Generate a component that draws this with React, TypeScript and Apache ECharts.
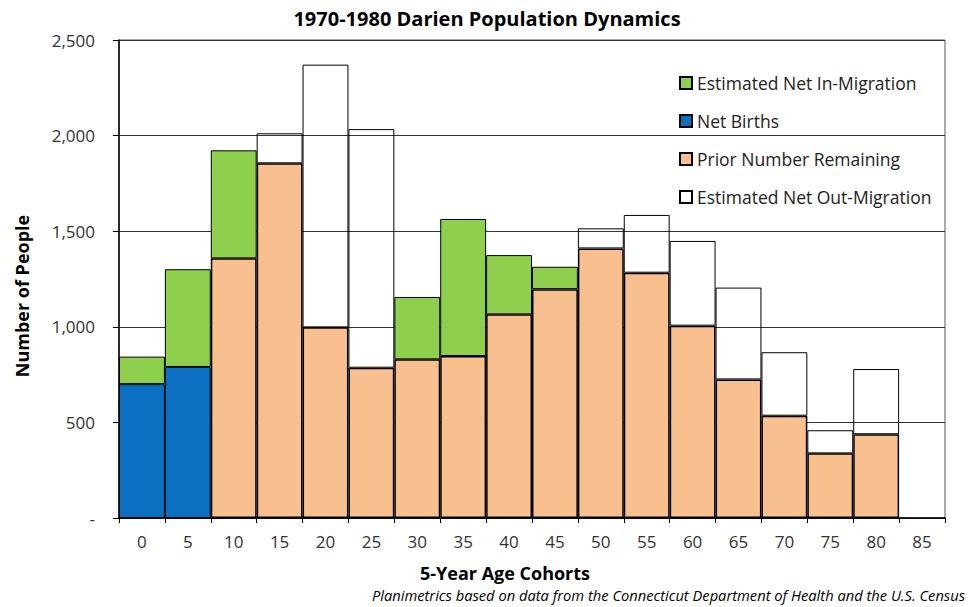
import React, { useEffect, useRef } from "react";
import * as echarts from "echarts";

const categories = ["0", "5", "10", "15", "20", "25", "30", "35", "40", "45", "50", "55", "60", "65", "70", "75", "80", "85"];
const netBirths = [700, 790, null, null, null, null, null, null, null, null, null, null, null, null, null, null, null, null];
const priorRemaining = [null, null, 1358, 1855, 997, 786, 830, 847, 1065, 1197, 1410, 1283, 1006, 725, 535, 338, 438, null];
const netInMigration = [144, 511, 565, null, null, null, 326, 717, 310, 117, null, null, null, null, null, null, null, null];
const netOutMigration = [null, null, null, 157, 1374, 1248, null, null, null, null, 105, 302, 443, 480, 332, 121, 341, null];
const yTickValues = [0, 500, 1000, 1500, 2000, 2500];
const yTickLabels = ["-", "500", "1,000", "1,500", "2,000", "2,500"];

const FONT = "'Open Sans', sans-serif";

export default function App() {
  const ref = useRef<HTMLDivElement>(null);
  useEffect(() => {
    const chart = echarts.init(ref.current!, null, { renderer: "svg" });
    chart.setOption({
      animation: false,
      backgroundColor: "#ffffff",
      textStyle: { fontFamily: FONT },
      title: {
        text: "1970-1980 Darien Population Dynamics",
        left: "center",
        top: 3,
        textStyle: { fontFamily: FONT, fontSize: 20, fontWeight: "bold", color: "#000" },
      },
      grid: {
        left: 119,
        right: 29,
        top: 40,
        bottom: 89,
        show: true,
        borderColor: "#555",
        borderWidth: 1,
        backgroundColor: "transparent",
      },
      legend: {
        orient: "vertical",
        left: 679,
        top: 74,
        padding: 0,
        itemWidth: 12,
        itemHeight: 12,
        itemGap: 20,
        icon: "rect",
        data: ["Estimated Net In-Migration", "Net Births", "Prior Number Remaining", "Estimated Net Out-Migration"],
        textStyle: { fontFamily: FONT, fontSize: 17.5, lineHeight: 18, color: "#222" },
        selectedMode: false,
      },
      xAxis: {
        type: "category",
        data: categories,
        name: "5-Year Age Cohorts",
        nameLocation: "middle",
        nameGap: 46,
        nameTextStyle: { fontFamily: FONT, fontSize: 18, fontWeight: "bold", color: "#000", padding: [0, 54, 0, 0] },
        axisLine: { lineStyle: { color: "#000", width: 1.5 } },
        axisTick: { show: true, length: 5, lineStyle: { color: "#000" } },
        axisLabel: { fontFamily: FONT, fontSize: 17, color: "#333", margin: 15 },
        splitLine: { show: false },
      },
      yAxis: {
        type: "value",
        min: 0,
        max: 2500,
        interval: 500,
        name: "Number of People",
        nameLocation: "middle",
        nameGap: 88,
        nameTextStyle: { fontFamily: FONT, fontSize: 18, fontWeight: "bold", color: "#000", padding: [0, 34, 0, 0] },
        axisLine: { show: true, lineStyle: { color: "#000", width: 1.5 } },
        axisTick: { show: true, length: 6, lineStyle: { color: "#000" } },
        axisLabel: {
          fontFamily: FONT,
          fontSize: 17,
          color: "#333",
          margin: 24,
          formatter: (v: number) => {
            const i = yTickValues.indexOf(v);
            return i >= 0 ? yTickLabels[i] : String(v);
          },
        },
        splitLine: { show: true, lineStyle: { color: "#333", width: 1 } },
      },
      graphic: [
        {
          type: "text",
          right: 9,
          top: 587,
          style: {
            text: "Planimetrics based on data from the Connecticut Department of Health and the U.S. Census",
            font: `italic 14.7px ${FONT}`,
            fill: "#000",
          },
        },
      ],
      series: [
        {
          name: "Net Births",
          type: "bar",
          stack: "pop",
          barCategoryGap: "0%",
          data: netBirths,
          itemStyle: { color: "#0B6FC2", borderColor: "#000", borderWidth: 1 },
        },
        {
          name: "Prior Number Remaining",
          type: "bar",
          stack: "pop",
          barCategoryGap: "0%",
          data: priorRemaining,
          itemStyle: { color: "#F9C08F", borderColor: "#000", borderWidth: 1.5 },
        },
        {
          name: "Estimated Net In-Migration",
          type: "bar",
          stack: "pop",
          barCategoryGap: "0%",
          data: netInMigration,
          itemStyle: { color: "#8ED04E", borderColor: "#000", borderWidth: 1 },
        },
        {
          name: "Estimated Net Out-Migration",
          type: "bar",
          stack: "pop",
          barCategoryGap: "0%",
          data: netOutMigration,
          itemStyle: { color: "rgba(255,255,255,0)", borderColor: "#000", borderWidth: 1 },
        },
      ],
    });
    return () => chart.dispose();
  }, []);
  return <div ref={ref} style={{ position: "fixed", left: 0, top: 0, width: 974, height: 607 }} />;
}
